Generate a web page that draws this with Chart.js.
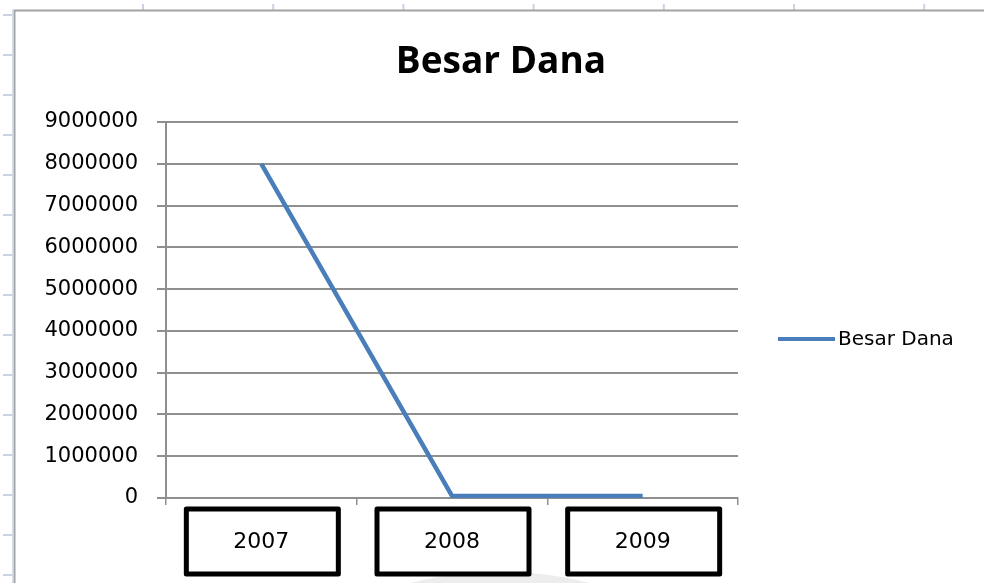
<!DOCTYPE html>
<html>
<head>
<meta charset="utf-8">
<script src="https://cdn.jsdelivr.net/npm/chart.js@4/dist/chart.umd.min.js"></script>
<style>
html,body{margin:0;padding:0;background:#fff;}
#wrap{width:984px;height:583px;position:relative;}
canvas{display:block;}
</style>
</head>
<body>
<div id="wrap"><canvas id="c" width="984" height="583" style="width:984px;height:583px"></canvas></div>
<script>
// ---- data ----
const TITLE = 'Besar Dana';
const categories = ['2007', '2008', '2009'];
const seriesLabel = 'Besar Dana';
const besarDana = [8000000, 50000, 50000];
const yMin = 0;
const yMax = 9000000;
const yStep = 1000000;

// ---- styles ----
const LINE_BLUE = '#4A7EBB';
const GRID = '#8f8f8f';
const FONT = 'DejaVu Sans, Verdana, sans-serif';

const decor = {
  id: 'excelDecor',
  beforeDraw(chart) {
    const ctx = chart.ctx;
    ctx.save();
    ctx.fillStyle = '#ffffff';
    ctx.fillRect(0, 0, chart.width, chart.height);
    // faint watermark shape at the bottom
    ctx.fillStyle = '#ededed';
    ctx.beginPath();
    ctx.ellipse(500, 640, 165, 68, 0, 0, Math.PI * 2);
    ctx.fill();
    // spreadsheet ruler ticks
    ctx.strokeStyle = '#c9d3e4';
    ctx.lineWidth = 2;
    for (let y = 15; y < chart.height; y += 40) {
      ctx.beginPath(); ctx.moveTo(3, y); ctx.lineTo(13, y); ctx.stroke();
    }
    for (let x = 143; x < chart.width; x += 130.2) {
      ctx.beginPath(); ctx.moveTo(x, 4); ctx.lineTo(x, 10); ctx.stroke();
    }
    // chart frame
    ctx.strokeStyle = '#d5dceb';
    ctx.lineWidth = 1;
    ctx.beginPath(); ctx.moveTo(12.5, 9); ctx.lineTo(12.5, chart.height); ctx.stroke();
    ctx.strokeStyle = '#a3a3a3';
    ctx.lineWidth = 2;
    ctx.beginPath();
    ctx.moveTo(14.5, chart.height); ctx.lineTo(14.5, 10.5); ctx.lineTo(chart.width, 10.5);
    ctx.stroke();
    ctx.restore();
  },
  afterDraw(chart) {
    const ctx = chart.ctx;
    const xs = chart.scales.x;
    ctx.save();
    // title
    ctx.fillStyle = '#000';
    ctx.font = 'bold 37px "Open Sans", "Noto Sans", sans-serif';
    ctx.textAlign = 'center';
    ctx.textBaseline = 'alphabetic';
    ctx.fillText(TITLE, 501, 73);
    // legend
    const ly = 339;
    ctx.strokeStyle = LINE_BLUE;
    ctx.lineWidth = 4;
    ctx.beginPath(); ctx.moveTo(778, ly); ctx.lineTo(835, ly); ctx.stroke();
    ctx.font = '20px ' + FONT;
    ctx.textAlign = 'left';
    ctx.textBaseline = 'middle';
    ctx.fillStyle = '#000';
    ctx.fillText(chart.data.datasets[0].label, 838, ly + 1);
    // hand-drawn boxes around category labels
    ctx.strokeStyle = '#000';
    ctx.lineWidth = 5;
    ctx.lineJoin = 'round';
    categories.forEach((c, i) => {
      const cx = xs.getPixelForTick(i) + 1;
      const top = xs.top + 11;
      ctx.beginPath();
      ctx.rect(cx - 76, top, 152, 65);
      ctx.stroke();
    });
    ctx.restore();
  }
};

new Chart(document.getElementById('c'), {
  type: 'line',
  data: {
    labels: categories,
    datasets: [{
      label: seriesLabel,
      data: besarDana,
      borderColor: LINE_BLUE,
      backgroundColor: LINE_BLUE,
      borderWidth: 4.5,
      pointRadius: 0,
      pointHoverRadius: 0,
      tension: 0,
      fill: false
    }]
  },
  options: {
    responsive: false,
    animation: false,
    devicePixelRatio: 1,
    layout: { padding: { top: 122, right: 246, bottom: 0, left: 0 } },
    plugins: {
      legend: { display: false },
      title: { display: false },
      tooltip: { enabled: false }
    },
    scales: {
      x: {
        type: 'category',
        offset: true,
        grid: { offset: true, drawOnChartArea: false, drawTicks: true, tickLength: 7, color: GRID, lineWidth: 1.5 },
        border: { display: true, color: GRID, width: 2 },
        ticks: { font: { family: FONT, size: 22 }, color: '#000', padding: 24, maxRotation: 0, autoSkip: false },
        afterFit(s) { s.height = 85; }
      },
      y: {
        min: yMin,
        max: yMax,
        ticks: {
          stepSize: yStep,
          font: { family: FONT, size: 21 },
          color: '#000',
          padding: 19,
          callback: v => String(v)
        },
        grid: { color: GRID, lineWidth: 2, tickLength: 9, drawTicks: true },
        border: { display: true, color: GRID, width: 2 },
        afterFit(s) { s.width = 166; }
      }
    }
  },
  plugins: [decor]
});
</script>
</body>
</html>
